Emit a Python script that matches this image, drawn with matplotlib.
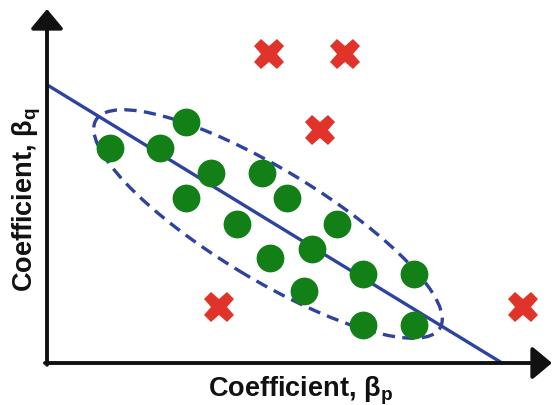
import matplotlib
matplotlib.use("Agg")
import matplotlib.pyplot as plt
from matplotlib.patches import Ellipse

plt.rcParams['font.family'] = ['Liberation Sans', 'DejaVu Sans']
plt.rcParams['mathtext.fontset'] = 'custom'
plt.rcParams['mathtext.rm'] = 'Liberation Sans:bold'
plt.rcParams['mathtext.bf'] = 'Liberation Sans:bold'

# green points (inliers)
green_x = [1.26, 2.26, 2.78, 3.28, 2.78, 4.30, 4.80, 3.80, 5.80, 5.30, 4.46, 6.32, 7.34, 5.14, 6.32, 7.34]
green_y = [4.30, 4.30, 4.82, 3.80, 3.30, 3.80, 3.30, 2.78, 2.78, 2.28, 2.10, 1.78, 1.78, 1.44, 0.76, 0.76]
# red crosses (outliers)
red_x = [4.44, 5.96, 5.46, 3.44, 9.52]
red_y = [6.18, 6.18, 4.66, 1.12, 1.12]
# fitted line
line_x = [0.04, 9.10]
line_y = [5.54, 0.0]
# confidence ellipse
ell_center = (4.42, 2.78)
ell_width = 8.04
ell_height = 2.2
ell_angle = -31.2

xmax, ymax = 10.1, 7.08

W, H = 552, 406
fig = plt.figure(figsize=(W / 100, H / 100), dpi=100)
ax = fig.add_axes([47 / W, 42 / H, 505 / W, 354 / H])
ax.set_xlim(0, xmax)
ax.set_ylim(0, ymax)
ax.axis('off')

blue = '#2e42a0'
ell = Ellipse(ell_center, ell_width, ell_height, angle=ell_angle, fill=False,
              edgecolor=blue, lw=2.4, linestyle=(0, (3.7, 2.2)), zorder=1)
ax.add_patch(ell)
ax.plot(line_x, line_y, color=blue, lw=2.4, zorder=2, clip_on=False)
ax.plot(green_x, green_y, 'o', color='#128016', markersize=20, markeredgewidth=0, zorder=3)
ax.plot(red_x, red_y, 'X', color='#e0342a', markersize=22, markeredgewidth=0, zorder=3, clip_on=False)

# axes arrows
arrow = dict(arrowstyle='-|>,head_length=0.6,head_width=0.5', lw=2.8, color='#111111',
             shrinkA=0, shrinkB=0, mutation_scale=20)
ax.annotate('', xy=(0, 1), xytext=(0, -0.005), xycoords='axes fraction', arrowprops=arrow)
ax.annotate('', xy=(1, 0), xytext=(-0.004, 0), xycoords='axes fraction', arrowprops=arrow)

fig.text(300 / W, 1 - 397 / H, r'Coefficient, β$_\mathrm{p}$', ha='center', va='baseline',
         fontsize=19.5, fontweight='bold', color='#111111')
fig.text(33 / W, 1 - 200 / H, r'Coefficient, β$_\mathrm{q}$', ha='center', va='baseline',
         rotation=90, rotation_mode='anchor', fontsize=19.5, fontweight='bold', color='#111111')

fig.savefig('out.png', dpi=100)
